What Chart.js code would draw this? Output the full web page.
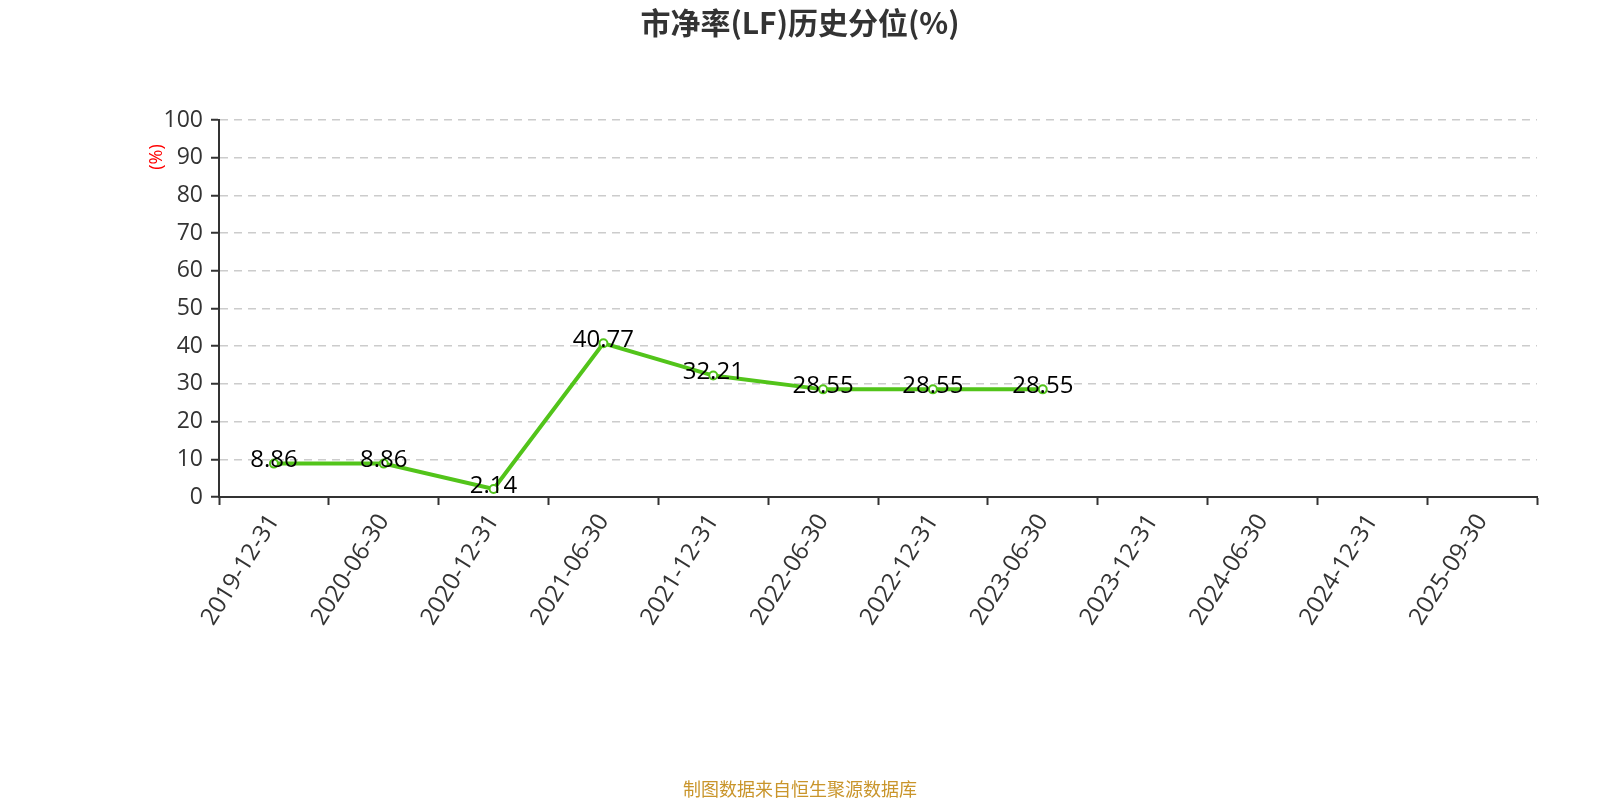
<!DOCTYPE html>
<html>
<head>
<meta charset="utf-8">
<script src="https://cdn.jsdelivr.net/npm/chart.js@4/dist/chart.umd.min.js"></script>
<style>
html,body{margin:0;padding:0;background:#fff;}
#wrap{width:1600px;height:800px;position:relative;}
</style>
</head>
<body>
<div id="wrap"><canvas id="c" width="1600" height="800"></canvas></div>
<script>
const titleText = '市净率(LF)历史分位(%)';
const footerText = '制图数据来自恒生聚源数据库';
const yAxisTitle = '(%)';
const categories = ['2019-12-31','2020-06-30','2020-12-31','2021-06-30','2021-12-31','2022-06-30','2022-12-31','2023-06-30','2023-12-31','2024-06-30','2024-12-31','2025-09-30'];
const percentileValues = [8.86, 8.86, 2.14, 40.77, 32.21, 28.55, 28.55, 28.55, null, null, null, null];
const yMin = 0, yMax = 100, yStep = 10;

const FONT = "'Open Sans', 'Noto Sans CJK SC', sans-serif";

const decorPlugin = {
  id: 'decor',
  afterDraw(chart) {
    const ctx = chart.ctx;
    ctx.save();
    ctx.fillStyle = '#333';
    ctx.font = "bold 30px 'Noto Sans CJK SC', sans-serif";
    ctx.textAlign = 'center';
    ctx.textBaseline = 'middle';
    ctx.fillText(titleText, 800, 23);
    ctx.fillStyle = '#c9952b';
    ctx.font = "18px 'Noto Sans CJK SC', sans-serif";
    ctx.fillText(footerText, 800, 789);
    ctx.translate(157, 157);
    ctx.rotate(-Math.PI/2);
    ctx.fillStyle = '#ff0000';
    ctx.font = "18px " + FONT;
    ctx.fillText(yAxisTitle, 0, 0);
    ctx.restore();
    const meta = chart.getDatasetMeta(0);
    ctx.save();
    ctx.fillStyle = '#000';
    ctx.font = "24px " + FONT;
    ctx.textAlign = 'center';
    ctx.textBaseline = 'middle';
    meta.data.forEach((pt, i) => {
      const v = percentileValues[i];
      if (v === null || v === undefined) return;
      ctx.fillText(v.toFixed(2), pt.x, pt.y - 3);
    });
    ctx.restore();
  }
};

new Chart(document.getElementById('c'), {
  type: 'line',
  data: {
    labels: categories,
    datasets: [{
      data: percentileValues,
      borderColor: '#52c41a',
      backgroundColor: '#ffffff',
      borderWidth: 4,
      pointRadius: 4,
      pointBorderWidth: 2,
      pointBackgroundColor: '#ffffff',
      pointBorderColor: '#52c41a',
      tension: 0,
      spanGaps: false
    }]
  },
  options: {
    responsive: false,
    animation: false,
    devicePixelRatio: 1,
    layout: { padding: { left: 139, right: 63, top: 120, bottom: 123 } },
    plugins: { legend: { display: false }, title: { display: false }, tooltip: { enabled: false } },
    scales: {
      x: {
        type: 'category',
        offset: true,
        grid: {
          offset: true,
          drawOnChartArea: false,
          drawTicks: true,
          tickLength: 8,
          tickColor: '#333',
          tickWidth: 2,
          color: '#333'
        },
        border: { display: true, color: '#333', width: 2 },
        ticks: {
          color: '#333',
          font: { size: 24, family: FONT },
          maxRotation: 58,
          minRotation: 58,
          autoSkip: false,
          padding: 4
        },
        afterFit(scale) { scale.height = 180; }
      },
      y: {
        min: yMin,
        max: yMax,
        grid: {
          color: (c) => c.tick && c.tick.value === 0 ? 'rgba(0,0,0,0)' : '#cccccc',
          lineWidth: 1.5,
          drawTicks: true,
          tickLength: 8,
          tickColor: '#333',
          tickWidth: 2,
          tickBorderDash: []
        },
        border: { display: true, color: '#333', width: 2, dash: [8, 6] },
        ticks: {
          stepSize: yStep,
          color: '#333',
          font: { size: 23, family: FONT },
          padding: 8
        },
        afterFit(scale) { scale.width = 80; }
      }
    }
  },
  plugins: [decorPlugin]
});
</script>
</body>
</html>
